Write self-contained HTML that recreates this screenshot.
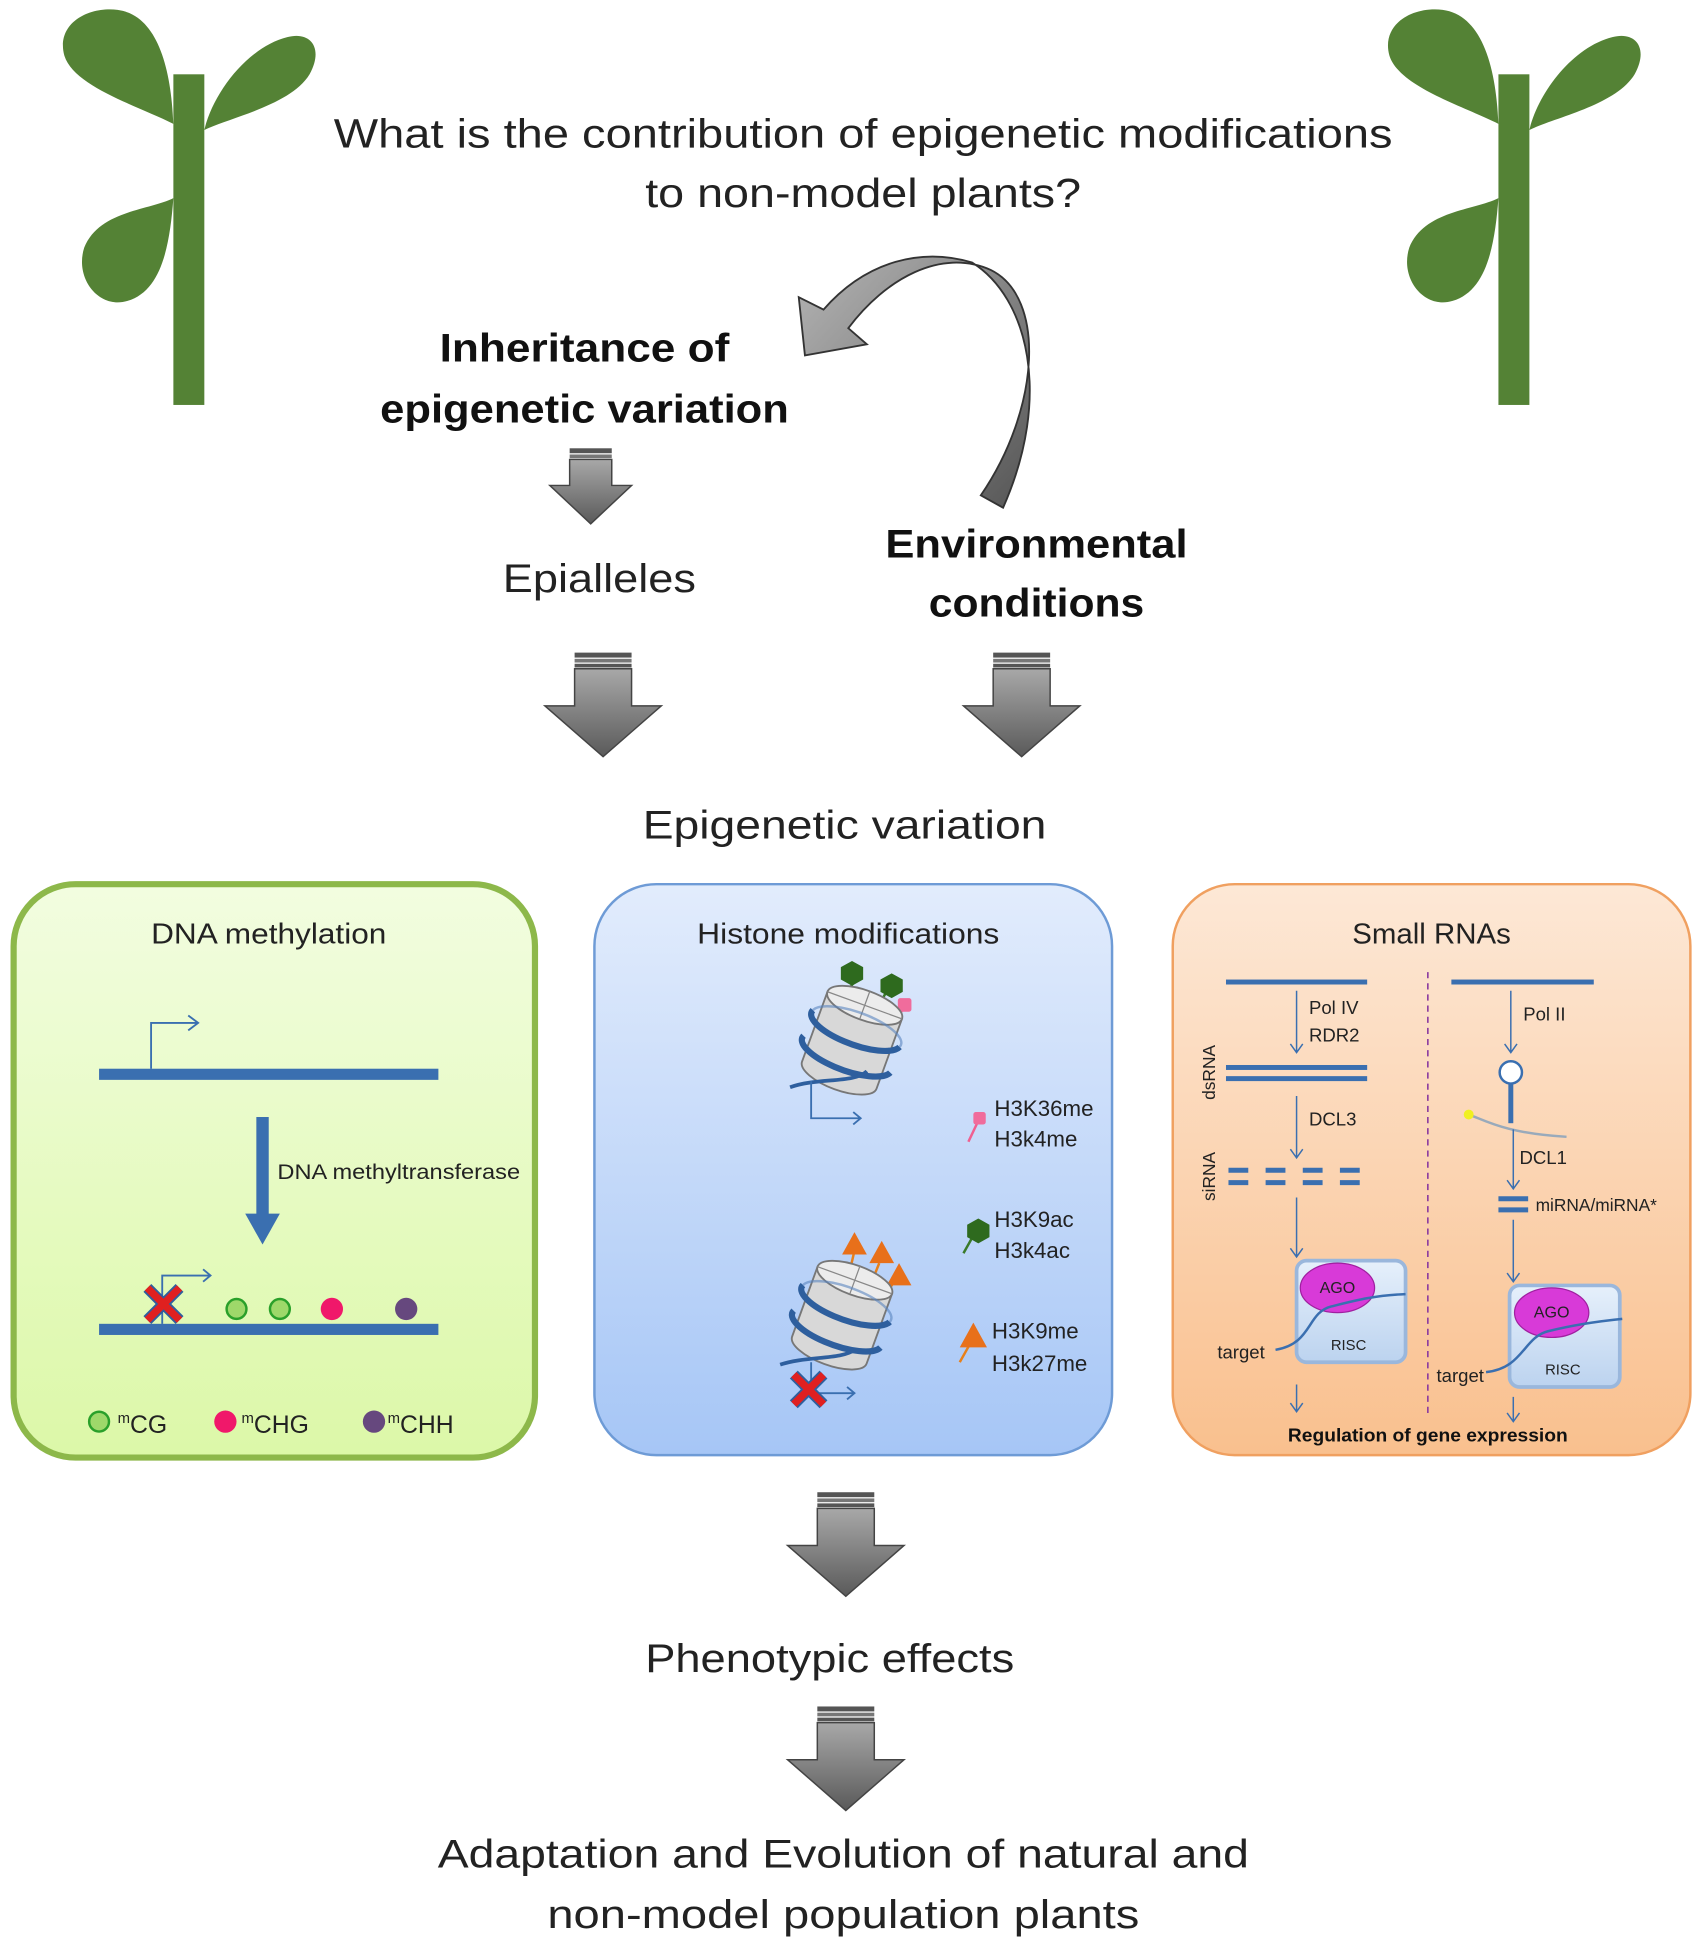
<!DOCTYPE html>
<html><head><meta charset="utf-8"><style>
html,body{margin:0;padding:0;background:#fff;width:1704px;height:1943px;overflow:hidden}
svg{display:block}
text{font-family:"Liberation Sans",sans-serif}
</style></head><body>
<svg width="1704" height="1943" viewBox="0 0 1376 1569" preserveAspectRatio="none" xmlns="http://www.w3.org/2000/svg">
<defs>
<linearGradient id="ga" x1="0" x2="1" y1="0" y2="0"><stop offset="0" stop-color="#8a8a8a"/><stop offset="0.5" stop-color="#b0b0b0"/><stop offset="1" stop-color="#6a6a6a"/></linearGradient>
<linearGradient id="gh" x1="0" x2="0" y1="0" y2="1"><stop offset="0" stop-color="#a8a8a8"/><stop offset="1" stop-color="#5a5a5a"/></linearGradient>
<linearGradient id="gGreen" x1="0" x2="0" y1="0" y2="1"><stop offset="0" stop-color="#f2fde0"/><stop offset="1" stop-color="#dcf8a8"/></linearGradient>
<linearGradient id="gBlue" x1="0" x2="0" y1="0" y2="1"><stop offset="0" stop-color="#e2ecfc"/><stop offset="1" stop-color="#a6c6f6"/></linearGradient>
<linearGradient id="gOr" x1="0" x2="0" y1="0" y2="1"><stop offset="0" stop-color="#fde8d6"/><stop offset="1" stop-color="#f9c08e"/></linearGradient>
<linearGradient id="gCurve" x1="0" x2="1" y1="0" y2="1"><stop offset="0" stop-color="#b5b5b5"/><stop offset="1" stop-color="#555"/></linearGradient>
<linearGradient id="gRisc" x1="0" x2="0" y1="0" y2="1"><stop offset="0" stop-color="#e6f0fb"/><stop offset="1" stop-color="#bcd3ef"/></linearGradient>
<g id="bigArrow">
<rect x="-23" y="0" width="46" height="4" fill="#555"/><rect x="-23" y="5" width="46" height="3" fill="#777"/><rect x="-23" y="9" width="46" height="3" fill="#555"/>
<path d="M-23 13 H23 V43 H47 L0 84 L-47 43 H-23 Z" fill="url(#gh)" stroke="#444" stroke-width="1.2"/>
</g>
<g id="smallArrow">
<rect x="-17" y="0" width="34" height="4" fill="#555"/><rect x="-17" y="5" width="34" height="3" fill="#777"/>
<path d="M-17 9 H17 V30 H33 L0 61 L-33 30 H-17 Z" fill="url(#gh)" stroke="#444" stroke-width="1.2"/>
</g>
<g id="plant" fill="#548235">
<rect x="140" y="60" width="25" height="267"/>
<path d="M140 100 C110 85 60 70 52 45 C45 20 70 5 95 8 C125 12 138 50 140 100 Z"/>
<path d="M165 105 C185 95 235 85 250 60 C262 38 250 25 232 30 C200 38 172 75 165 105 Z"/>
<path d="M140 160 C120 170 80 170 68 200 C60 225 80 250 103 243 C130 235 137 200 140 160 Z"/>
</g>
<g id="nuc">
<path d="M-32 -30 L-32 30 A32 12 0 0 0 32 30 L32 -30 Z" fill="#d8d8d8" stroke="#777" stroke-width="1.5"/>
<ellipse cx="0" cy="-30" rx="32" ry="12" fill="#ececec" stroke="#777" stroke-width="1.5"/>
<path d="M-32 -30 L32 -30 M0 -42 L0 -18" stroke="#888" stroke-width="1"/>
<path d="M-38 -12 A38 13 0 0 0 38 -8" stroke="#2e5f9e" stroke-width="5" fill="none"/>
<path d="M-38 10 A38 13 0 0 0 38 14" stroke="#2e5f9e" stroke-width="5" fill="none"/>
<path d="M-38 -12 A38 13 0 0 1 38 -8" stroke="#5a86c0" stroke-width="2" fill="none" opacity="0.6"/>
</g>
</defs>

<use href="#plant"/>
<use href="#plant" transform="translate(1070,0)"/>

<text x="697" y="119" font-size="33" text-anchor="middle" fill="#222" textLength="855" lengthAdjust="spacingAndGlyphs">What is the contribution of epigenetic modifications</text>
<text x="697" y="167" font-size="33" text-anchor="middle" fill="#222" textLength="352" lengthAdjust="spacingAndGlyphs">to non-model plants?</text>

<!-- curved arrow -->
<path d="M792 400 C840 330 845 240 800 218 C760 200 715 225 685 265 L700 278 L650 287 L645 240 L665 250 C700 210 745 200 785 212 C830 240 850 320 810 410 Z" fill="url(#gCurve)" stroke="#333" stroke-width="1.5"/>

<text x="472" y="292" font-size="32" font-weight="bold" text-anchor="middle" fill="#111" textLength="234" lengthAdjust="spacingAndGlyphs">Inheritance of</text>
<text x="472" y="341" font-size="32" font-weight="bold" text-anchor="middle" fill="#111" textLength="330" lengthAdjust="spacingAndGlyphs">epigenetic variation</text>
<use href="#smallArrow" transform="translate(477,362)"/>
<text x="484" y="478" font-size="32" text-anchor="middle" fill="#222" textLength="156" lengthAdjust="spacingAndGlyphs">Epialleles</text>
<text x="837" y="450" font-size="32" font-weight="bold" text-anchor="middle" fill="#111" textLength="244" lengthAdjust="spacingAndGlyphs">Environmental</text>
<text x="837" y="498" font-size="32" font-weight="bold" text-anchor="middle" fill="#111" textLength="174" lengthAdjust="spacingAndGlyphs">conditions</text>
<use href="#bigArrow" transform="translate(487,527)"/>
<use href="#bigArrow" transform="translate(825,527)"/>
<text x="682" y="677" font-size="32" text-anchor="middle" fill="#222" textLength="326" lengthAdjust="spacingAndGlyphs">Epigenetic variation</text>

<!-- boxes -->
<rect x="11" y="714" width="421" height="463" rx="50" fill="url(#gGreen)" stroke="#8db84a" stroke-width="5"/>
<rect x="480" y="714" width="418" height="461" rx="50" fill="url(#gBlue)" stroke="#6e9bd6" stroke-width="2"/>
<rect x="947" y="714" width="418" height="461" rx="50" fill="url(#gOr)" stroke="#f0a060" stroke-width="2"/>

<!-- DNA methylation -->
<text x="217" y="762" font-size="23" text-anchor="middle" fill="#222" textLength="190" lengthAdjust="spacingAndGlyphs">DNA methylation</text>
<rect x="80" y="863" width="274" height="9" fill="#3a6fb0"/>
<path d="M122 863 V826 H160 M152 820 L160 826 L152 832" stroke="#3a6fb0" stroke-width="1.5" fill="none"/>
<rect x="207" y="902" width="10" height="80" fill="#3a6fb0"/>
<path d="M198 980 H226 L212 1005 Z" fill="#3a6fb0"/>
<text x="224" y="952" font-size="17" fill="#222" textLength="196" lengthAdjust="spacingAndGlyphs">DNA methyltransferase</text>
<rect x="80" y="1069" width="274" height="9" fill="#3a6fb0"/>
<path d="M131 1069 V1030 H170 M164 1025 L170 1030 L164 1035" stroke="#3a6fb0" stroke-width="1.5" fill="none"/>
<path d="M119 1040 L145 1066 M145 1040 L119 1066" stroke="#2e5f9e" stroke-width="9"/>
<path d="M119 1040 L145 1066 M145 1040 L119 1066" stroke="#e02020" stroke-width="6"/>
<circle cx="191" cy="1057" r="8" fill="#9ed86a" stroke="#2aa02a" stroke-width="2"/>
<circle cx="226" cy="1057" r="8" fill="#9ed86a" stroke="#2aa02a" stroke-width="2"/>
<circle cx="268" cy="1057" r="9" fill="#f0186a"/>
<circle cx="328" cy="1057" r="9" fill="#66487e"/>
<circle cx="80" cy="1148" r="8" fill="#9ed86a" stroke="#2aa02a" stroke-width="2"/>
<text x="95" y="1157" font-size="20" fill="#222"><tspan font-size="12" dy="-8">m</tspan><tspan dy="8">CG</tspan></text>
<circle cx="182" cy="1148" r="9" fill="#f0186a"/>
<text x="195" y="1157" font-size="20" fill="#222"><tspan font-size="12" dy="-8">m</tspan><tspan dy="8">CHG</tspan></text>
<circle cx="302" cy="1148" r="9" fill="#66487e"/>
<text x="313" y="1157" font-size="20" fill="#222"><tspan font-size="12" dy="-8">m</tspan><tspan dy="8">CHH</tspan></text>

<!-- Histone -->
<text x="685" y="762" font-size="23" text-anchor="middle" fill="#222" textLength="244" lengthAdjust="spacingAndGlyphs">Histone modifications</text>
<path d="M678 810 L695 785 M705 820 L718 797" stroke="#3a7a2a" stroke-width="2"/>
<path d="M722 830 L730 812" stroke="#f06090" stroke-width="2"/>
<polygon points="688,776 697,781 697,791 688,796 679,791 679,781" fill="#2e6a1e"/>
<polygon points="720,786 729,791 729,801 720,806 711,801 711,791" fill="#2e6a1e"/>
<rect x="725" y="806" width="11" height="11" rx="2" fill="#f06c9c"/>
<use href="#nuc" transform="translate(688,840) rotate(20)"/>
<path d="M638 878 C660 870 690 875 700 865" stroke="#2e5f9e" stroke-width="3" fill="none"/>
<path d="M655 873 V903 H695 M689 898 L695 903 L689 908" stroke="#3a6fb0" stroke-width="1.5" fill="none"/>
<path d="M782 922 L790 905" stroke="#f06090" stroke-width="2"/><rect x="786" y="898" width="10" height="10" rx="2" fill="#f06c9c"/>
<text x="803" y="901" font-size="18" fill="#222">H3K36me</text>
<text x="803" y="926" font-size="18" fill="#222">H3k4me</text>
<path d="M778 1012 L787 996" stroke="#3a7a2a" stroke-width="2"/>
<polygon points="790,984 799,989 799,999 790,1004 781,999 781,989" fill="#2e6a1e"/>
<text x="803" y="991" font-size="18" fill="#222">H3K9ac</text>
<text x="803" y="1016" font-size="18" fill="#222">H3k4ac</text>
<path d="M775 1100 L784 1084" stroke="#e8801a" stroke-width="2"/>
<polygon points="786,1068 797,1088 775,1088" fill="#e8701a"/>
<text x="801" y="1081" font-size="18" fill="#222">H3K9me</text>
<text x="801" y="1107" font-size="18" fill="#222">H3k27me</text>
<path d="M683 1040 L690 1010 M700 1045 L710 1020 M712 1050 L722 1035" stroke="#e8801a" stroke-width="2"/>
<polygon points="690,995 700,1013 680,1013" fill="#e8701a"/>
<polygon points="712,1002 722,1020 702,1020" fill="#e8701a"/>
<polygon points="726,1020 736,1038 716,1038" fill="#e8701a"/>
<use href="#nuc" transform="translate(680,1062) rotate(20)"/>
<path d="M630 1102 C650 1095 680 1098 690 1090" stroke="#2e5f9e" stroke-width="3" fill="none"/>
<path d="M655 1100 V1125 H690 M684 1120 L690 1125 L684 1130" stroke="#3a6fb0" stroke-width="1.5" fill="none"/>
<path d="M641 1110 L665 1134 M665 1110 L641 1134" stroke="#2e5f9e" stroke-width="9"/>
<path d="M641 1110 L665 1134 M665 1110 L641 1134" stroke="#e02020" stroke-width="6"/>

<!-- Small RNAs -->
<text x="1156" y="762" font-size="23" text-anchor="middle" fill="#222" textLength="128" lengthAdjust="spacingAndGlyphs">Small RNAs</text>
<g stroke="#3a6fb0" fill="none">
<rect x="990" y="791" width="114" height="4" fill="#3a6fb0" stroke="none"/>
<path d="M1047 800 V850 M1042 843 L1047 850 L1052 843" stroke-width="1.2"/>
<rect x="990" y="860" width="114" height="4" fill="#3a6fb0" stroke="none"/>
<rect x="990" y="869" width="114" height="4" fill="#3a6fb0" stroke="none"/>
<path d="M1047 885 V935 M1042 928 L1047 935 L1052 928" stroke-width="1.2"/>
<path d="M992 945 H1008 M1022 945 H1038 M1052 945 H1068 M1082 945 H1098 M992 955 H1008 M1022 955 H1038 M1052 955 H1068 M1082 955 H1098" stroke-width="4"/>
<path d="M1047 967 V1015 M1042 1008 L1047 1015 L1052 1008" stroke-width="1.2"/>
<path d="M1047 1118 V1140 M1042 1133 L1047 1140 L1052 1133" stroke-width="1.2"/>
<rect x="1172" y="791" width="115" height="4" fill="#3a6fb0" stroke="none"/>
<path d="M1220 800 V850 M1215 843 L1220 850 L1225 843" stroke-width="1.2"/>
<circle cx="1220" cy="866" r="9" fill="#fff" stroke-width="2"/>
<path d="M1220 875 V907" stroke-width="4"/>
<path d="M1186 900 C1200 905 1215 915 1265 918" stroke="#9ab" stroke-width="2"/>
<path d="M1222 912 V960 M1217 953 L1222 960 L1227 953" stroke-width="1.2"/>
<path d="M1210 968 H1234 M1210 977 H1234" stroke-width="4"/>
<path d="M1222 985 V1035 M1217 1028 L1222 1035 L1227 1028" stroke-width="1.2"/>
<path d="M1222 1128 V1148 M1217 1141 L1222 1148 L1227 1141" stroke-width="1.2"/>
</g>
<circle cx="1186" cy="900" r="4" fill="#f0f020"/>
<path d="M1153 785 V1145" stroke="#8a3aa0" stroke-width="1.3" stroke-dasharray="5,4"/>
<text transform="translate(981,866) rotate(-90)" font-size="14" text-anchor="middle" fill="#222">dsRNA</text>
<text transform="translate(981,950) rotate(-90)" font-size="14" text-anchor="middle" fill="#222">siRNA</text>
<text x="1057" y="819" font-size="15" fill="#222">Pol IV</text>
<text x="1057" y="841" font-size="15" fill="#222">RDR2</text>
<text x="1057" y="909" font-size="15" fill="#222">DCL3</text>
<text x="1230" y="824" font-size="15" fill="#222">Pol II</text>
<text x="1227" y="940" font-size="15" fill="#222">DCL1</text>
<text x="1240" y="978" font-size="14" fill="#222">miRNA/miRNA*</text>
<rect x="1047" y="1018" width="88" height="82" rx="8" fill="url(#gRisc)" stroke="#9ab7dc" stroke-width="3"/>
<ellipse cx="1080" cy="1040" rx="30" ry="20" fill="#d83ad8" stroke="#a020a0"/>
<text x="1080" y="1044" font-size="13" font-family="Liberation Serif,serif" text-anchor="middle" fill="#222">AGO</text>
<path d="M1030 1090 C1060 1085 1055 1060 1075 1055 C1095 1050 1110 1046 1135 1045" stroke="#3a6fb0" stroke-width="2" fill="none"/>
<text x="1089" y="1090" font-size="12" font-family="Liberation Serif,serif" text-anchor="middle" fill="#222">RISC</text>
<text x="983" y="1097" font-size="15" fill="#222">target</text>
<rect x="1219" y="1038" width="89" height="82" rx="8" fill="url(#gRisc)" stroke="#9ab7dc" stroke-width="3"/>
<ellipse cx="1253" cy="1060" rx="30" ry="20" fill="#d83ad8" stroke="#a020a0"/>
<text x="1253" y="1064" font-size="13" font-family="Liberation Serif,serif" text-anchor="middle" fill="#222">AGO</text>
<path d="M1200 1108 C1230 1105 1230 1080 1250 1075 C1270 1070 1290 1067 1310 1065" stroke="#3a6fb0" stroke-width="2" fill="none"/>
<text x="1262" y="1110" font-size="12" font-family="Liberation Serif,serif" text-anchor="middle" fill="#222">RISC</text>
<text x="1160" y="1116" font-size="15" fill="#222">target</text>
<text x="1153" y="1164" font-size="15" font-weight="bold" text-anchor="middle" fill="#111" textLength="226" lengthAdjust="spacingAndGlyphs">Regulation of gene expression</text>

<use href="#bigArrow" transform="translate(683,1205)"/>
<text x="670" y="1350" font-size="32" text-anchor="middle" fill="#222" textLength="298" lengthAdjust="spacingAndGlyphs">Phenotypic effects</text>
<use href="#bigArrow" transform="translate(683,1378)"/>
<text x="681" y="1508" font-size="32" text-anchor="middle" fill="#222" textLength="655" lengthAdjust="spacingAndGlyphs">Adaptation and Evolution of natural and</text>
<text x="681" y="1557" font-size="32" text-anchor="middle" fill="#222" textLength="478" lengthAdjust="spacingAndGlyphs">non-model population plants</text>
</svg>
</body></html>
